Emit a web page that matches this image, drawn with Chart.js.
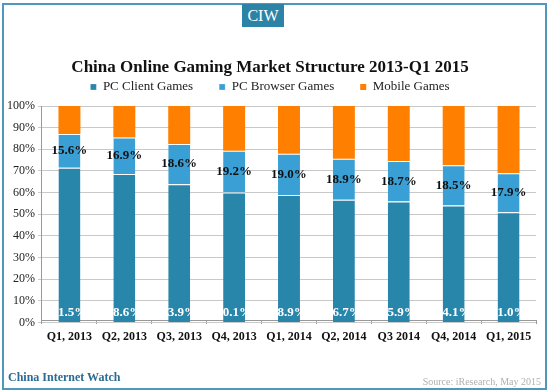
<html>
<head>
<meta charset="UTF-8">
<title>China Online Gaming Market Structure</title>
<style>
  body { margin: 0; background: #fff; }
  #wrap { position: relative; width: 550px; height: 392px; overflow: hidden; }
  #frame { position: absolute; left: 2px; top: 3px; width: 541px; height: 383px; border: 2px solid #4f97bd; pointer-events: none; }
  #ciw { position: absolute; left: 242px; top: 4px; width: 42px; height: 23px; background: #2b84a6; color: #fff;
         font: 16px "Liberation Serif", serif; text-align: center; line-height: 23px; }
  #brand { position: absolute; left: 8px; top: 370px; color: #2a6c93; font: bold 12px "Liberation Serif", serif; }
  #source { position: absolute; right: 9px; top: 376px; color: #b0b0b0; font: 10px "Liberation Serif", serif; }
  canvas { position: absolute; left: 0; top: 0; }
</style>
</head>
<body>
<div id="wrap">
  <canvas id="myChart" width="550" height="392"></canvas>
  <div id="frame"></div>
  <div id="ciw">CIW</div>
  <div id="brand">China Internet Watch</div>
  <div id="source">Source: iResearch, May 2015</div>
</div>

<script src="https://cdn.jsdelivr.net/npm/chart.js@4.4.0/dist/chart.umd.min.js"></script>
<script>
// data (percent of market)
var quarters = ['Q1, 2013', 'Q2, 2013', 'Q3, 2013', 'Q4, 2013', 'Q1, 2014', 'Q2, 2014', 'Q3 2014', 'Q4, 2014', 'Q1, 2015'];
var pcClient = [71.5, 68.6, 63.9, 60.1, 58.9, 56.7, 55.9, 54.1, 51.0];
var pcBrowser = [15.6, 16.9, 18.6, 19.2, 19.0, 18.9, 18.7, 18.5, 17.9];
var mobile = [12.9, 14.5, 17.5, 20.7, 22.1, 24.4, 25.4, 27.4, 31.1];

var serif = '"Liberation Serif", serif';

// value labels: client at bottom (white), browser in middle (black)
var labelPlugin = {
  id: 'segLabels',
  afterDatasetsDraw: function(chart) {
    var ctx = chart.ctx;
    ctx.save();
    ctx.textAlign = 'center';
    ctx.textBaseline = 'middle';
    ctx.font = 'bold 13px ' + serif;
    var m0 = chart.getDatasetMeta(0);
    m0.data.forEach(function(bar, i) {
      ctx.fillStyle = '#fff';
      ctx.fillText(pcClient[i].toFixed(1) + '%', bar.x, bar.base - 9);
    });
    var m1 = chart.getDatasetMeta(1);
    m1.data.forEach(function(bar, i) {
      ctx.fillStyle = '#111';
      ctx.fillText(pcBrowser[i].toFixed(1) + '%', bar.x, (bar.y + bar.base) / 2);
    });
    ctx.restore();
  }
};

var ctx = document.getElementById('myChart').getContext('2d');
var chart = new Chart(ctx, {
  type: 'bar',
  data: {
    labels: quarters,
    datasets: [
      { label: 'PC Client Games', data: pcClient, backgroundColor: '#2986ab', borderColor: '#fff', borderWidth: {top: 1}, borderSkipped: false },
      { label: 'PC Browser Games', data: pcBrowser, backgroundColor: '#3a9fd5', borderColor: '#fff', borderWidth: {top: 1}, borderSkipped: false },
      { label: 'Mobile Games', data: mobile, backgroundColor: '#ff7f00', borderWidth: 0 }
    ]
  },
  options: {
    responsive: false,
    animation: false,
    layout: { padding: { left: 4, right: 14, top: 57, bottom: 39 } },
    datasets: { bar: { barPercentage: 0.4, categoryPercentage: 1.0 } },
    plugins: {
      title: { display: true, text: 'China Online Gaming Market Structure 2013-Q1 2015', color: '#111',
               font: { family: serif, size: 17, weight: 'bold' }, padding: { top: 0, bottom: -23 } },
      legend: { labels: { color: '#222', boxWidth: 6, boxHeight: 6, padding: 26, font: { family: serif, size: 13 } } },
      tooltip: { enabled: false }
    },
    scales: {
      x: {
        stacked: true,
        grid: { offset: true, drawOnChartArea: false, drawTicks: true, tickLength: 4, color: '#999' },
        border: { color: '#999' },
        ticks: { color: '#111', font: { family: serif, size: 12, weight: 'bold' }, maxRotation: 0, autoSkip: false, padding: 6 }
      },
      y: {
        stacked: true,
        min: 0, max: 100,
        grid: { color: '#c9c9c9', tickLength: 4 },
        border: { color: '#999' },
        ticks: { stepSize: 10, color: '#222', font: { family: serif, size: 12 }, callback: function(v) { return v + '%'; } }
      }
    }
  },
  plugins: [labelPlugin]
});
</script>
</body>
</html>
